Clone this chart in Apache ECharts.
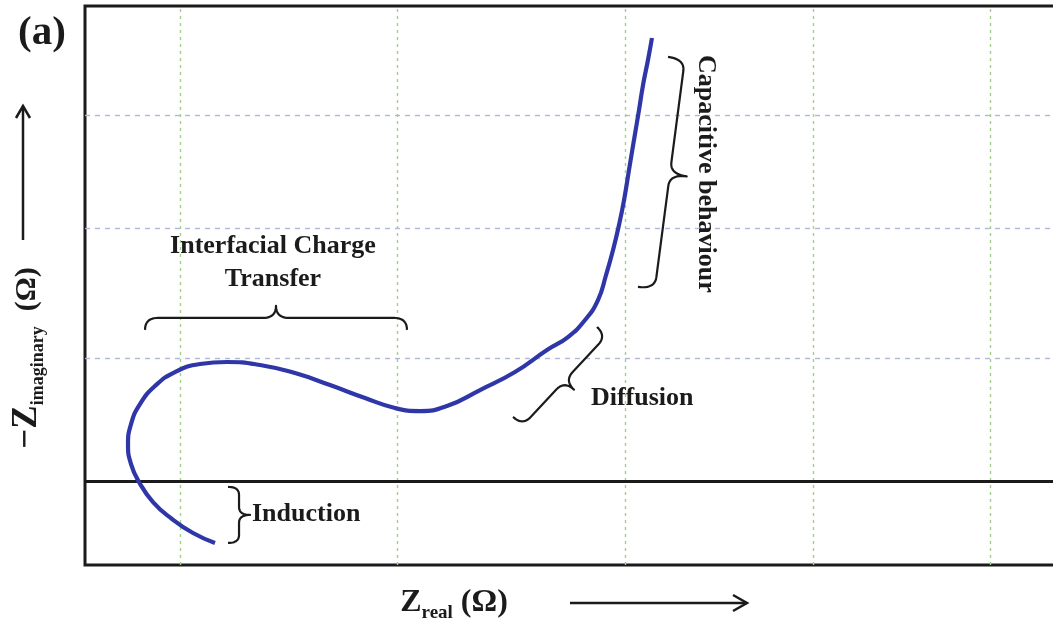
<!DOCTYPE html>
<html>
<head>
<meta charset="utf-8">
<title>Nyquist plot regions</title>
<script src="https://cdn.jsdelivr.net/npm/echarts@6/dist/echarts.min.js"></script>
<style>
  html, body { margin: 0; padding: 0; background: #ffffff; }
  #chart { width: 1053px; height: 620px; }
</style>
</head>
<body>
<div id="chart"></div>
<script>
// Impedance trace: real part and negative imaginary part (arbitrary Ω units)
const zReal = [13.36, 11.10, 8.94, 6.99, 5.55, 4.73, 4.42, 4.73, 5.65, 7.19, 9.25, 11.82, 14.59, 17.99,
  21.58, 25.18, 28.78, 31.86, 34.43, 37.20, 40.60, 44.19, 47.48, 49.64, 51.39, 52.72, 53.55, 54.27,
  54.88, 55.40, 55.91, 56.42, 56.94, 57.35, 57.86, 58.27];
const zImag = [-13.08, -10.97, -8.02, -4.44, -0.23, 3.56, 7.56, 11.98, 16.19, 19.98, 22.93, 24.62, 25.04, 24.41,
  22.72, 20.19, 17.46, 15.35, 14.72, 15.77, 19.14, 22.93, 27.56, 30.30, 33.88, 38.09, 43.36, 48.62,
  53.89, 59.15, 65.47, 71.78, 78.10, 83.36, 88.63, 93.26];

// Reference grid positions
const gridReal = [9.8, 32.1, 55.5, 74.8, 93.0];
const gridImag = [25.9, 53.3, 77.1];

// Region labels
const regionLabels = ['Interfacial Charge\nTransfer', 'Induction', 'Diffusion', 'Capacitive behaviour'];

const FONT = '"Liberation Serif", "Times New Roman", serif';
const INK = '#1b1b1b';
const CURVE = '#2f37a8';

const chart = echarts.init(document.getElementById('chart'), null, { renderer: 'canvas' });

const gridLineData = []
  .concat(gridReal.map(v => ({ xAxis: v, lineStyle: { color: '#a3d18c', width: 1.4, type: [3, 4] } })))
  .concat(gridImag.map(v => ({ yAxis: v, lineStyle: { color: '#aeb9da', width: 1.4, type: [5, 5] } })))
  .concat([{ yAxis: 0, lineStyle: { color: INK, width: 3, type: 'solid' } }]);

chart.setOption({
  animation: false,
  backgroundColor: '#ffffff',
  grid: {
    left: 85, right: -5, top: 6, bottom: 55,
    show: true, borderColor: INK, borderWidth: 3, backgroundColor: '#ffffff',
    outerBoundsMode: 'none'
  },
  xAxis: {
    type: 'value', min: 0, max: 100,
    axisLine: { show: false }, axisTick: { show: false },
    axisLabel: { show: false }, splitLine: { show: false }
  },
  yAxis: {
    type: 'value', min: -17.7, max: 100,
    axisLine: { show: false }, axisTick: { show: false },
    axisLabel: { show: false }, splitLine: { show: false }
  },
  series: [
    {
      type: 'line', data: [], silent: true, z: 1,
      markLine: {
        silent: true, symbol: ['none', 'none'], label: { show: false },
        emphasis: { disabled: true }, animation: false,
        data: gridLineData
      }
    },
    {
      type: 'line', name: 'Z',
      data: zReal.map((x, i) => [x, zImag[i]]),
      smooth: 0.5, symbol: 'none', z: 5,
      lineStyle: { color: CURVE, width: 4.2 }
    }
  ]
});

// ---- annotations ----
const px = (x, y) => chart.convertToPixel({ gridIndex: 0 }, [x, y]);

// curly brace from A to B, bulging to the left-hand normal of A->B, as a sampled polyline
function bracePoints(a, b, depth, r) {
  const dx = b[0] - a[0], dy = b[1] - a[1];
  const L = Math.hypot(dx, dy);
  const u = [dx / L, dy / L];
  const n = [-u[1], u[0]];
  const h1 = depth / 2;
  const m = L / 2;
  const P = (s, h) => [a[0] + u[0] * s + n[0] * h, a[1] + u[1] * s + n[1] * h];
  const pts = [];
  const quad = (p0, c, p1) => {
    for (let i = 0; i <= 12; i++) {
      const t = i / 12, k = 1 - t;
      pts.push([k * k * p0[0] + 2 * k * t * c[0] + t * t * p1[0], k * k * p0[1] + 2 * k * t * c[1] + t * t * p1[1]]);
    }
  };
  quad(P(0, 0), P(0, h1), P(r, h1));
  quad(P(m - r, h1), P(m, h1), P(m, depth));
  quad(P(m, depth), P(m, h1), P(m + r, h1));
  quad(P(L - r, h1), P(L, h1), P(L, 0));
  return pts;
}

function brace(a, b, depth, r) {
  return {
    type: 'polyline', silent: true, z: 20,
    shape: { points: bracePoints(px(a[0], a[1]), px(b[0], b[1]), depth, r) },
    style: { fill: null, stroke: INK, lineWidth: 2.2, lineJoin: 'round' }
  };
}

function label(text, at, align, size, rotation) {
  const p = px(at[0], at[1]);
  return {
    type: 'text', silent: true, z: 20, x: p[0], y: p[1], rotation: rotation || 0,
    style: {
      text: text, fill: INK, font: 'bold ' + size + 'px ' + FONT,
      align: align, verticalAlign: 'middle', lineHeight: 33
    }
  };
}

const ctx = document.createElement('canvas').getContext('2d');
function textWidth(t, size) {
  ctx.font = 'bold ' + size + 'px ' + FONT;
  return ctx.measureText(t).width;
}

// axis title with a subscript, centred on (cx, cy); parts = [[text, size, dy], ...]
function subTitle(parts, cx, cy, rotation) {
  const widths = parts.map(p => textWidth(p[0], p[1]));
  let x = -widths.reduce((s, w) => s + w, 0) / 2;
  const children = parts.map((p, i) => {
    const el = {
      type: 'text', x: x, y: p[2],
      style: { text: p[0], fill: INK, font: 'bold ' + p[1] + 'px ' + FONT, align: 'left', verticalAlign: 'middle' }
    };
    x += widths[i];
    return el;
  });
  return { type: 'group', x: cx, y: cy, rotation: rotation, silent: true, children: children };
}

function arrow(x1, y1, x2, y2, head, half) {
  const L = Math.hypot(x2 - x1, y2 - y1);
  const u = [(x2 - x1) / L, (y2 - y1) / L];
  const n = [-u[1], u[0]];
  const bx = x2 - u[0] * head, by = y2 - u[1] * head;
  return {
    type: 'group', silent: true,
    children: [
      { type: 'line', shape: { x1: x1, y1: y1, x2: x2, y2: y2 }, style: { stroke: INK, lineWidth: 2.5 } },
      {
        type: 'polyline',
        shape: { points: [[bx + n[0] * half, by + n[1] * half], [x2, y2], [bx - n[0] * half, by - n[1] * half]] },
        style: { stroke: INK, lineWidth: 2.5, fill: null }
      }
    ]
  };
}

chart.setOption({
  graphic: [
    // region braces (data coordinates)
    brace([33.09, 31.80], [6.17, 31.80], 24, 13),
    brace([14.70, -13.06], [14.70, -1.26], 22, 8),
    brace([43.99, 13.48], [52.62, 32.43], 26, 12),
    brace([56.83, 40.85], [59.92, 89.28], 34, 12),
    label(regionLabels[0], [19.32, 45.90], 'center', 26, 0),
    label(regionLabels[1], [17.16, -6.95], 'left', 26, 0),
    label(regionLabels[2], [52.00, 17.48], 'left', 26, 0),
    label(regionLabels[3], [63.82, 64.65], 'center', 26, -Math.PI / 2),
    // panel tag
    {
      type: 'text', x: 42, y: 33, silent: true,
      style: { text: '(a)', fill: INK, font: 'bold 41px ' + FONT, align: 'center', verticalAlign: 'middle' }
    },
    // axis titles and direction arrows
    subTitle([['Z', 32, 0], ['real', 19, 10], [' (Ω)', 32, 0]], 454, 603, 0),
    arrow(570, 603, 747, 603, 14, 8),
    subTitle([['−Z', 35, 0], ['imaginary', 18, 11], ['  (Ω)', 30, 0]], 27, 358, Math.PI / 2),
    arrow(23, 240, 23, 106, 12, 7)
  ]
});
</script>
</body>
</html>
